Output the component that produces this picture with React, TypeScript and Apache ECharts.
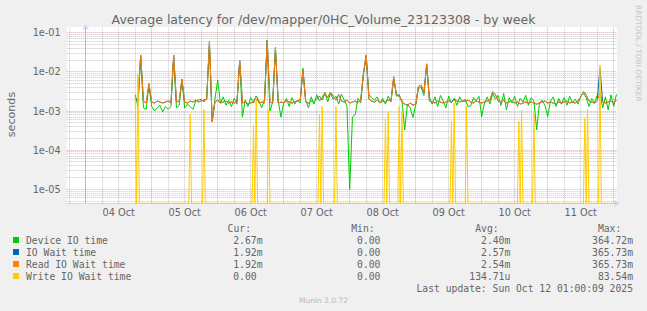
import React, { useEffect, useRef } from 'react';
import * as echarts from 'echarts';

// ---- axis / tick data ----
const dayLabels = ['04 Oct', '05 Oct', '06 Oct', '07 Oct', '08 Oct', '09 Oct', '10 Oct', '11 Oct'];
const dayLabelHours = [12, 36, 60, 84, 108, 132, 156, 180];
const midnightHours = [0, 24, 48, 72, 96, 120, 144, 168, 192];
const sixHourGridHours = [-6, 6, 12, 18, 30, 36, 42, 54, 60, 66, 78, 84, 90, 102, 108, 114, 126, 132, 138, 150, 156, 162, 174, 180, 186];
const yMajorTicks = [1e-5, 1e-4, 1e-3, 1e-2, 1e-1];
const yMinorTicks = [
  5e-6, 6e-6, 7e-6, 8e-6, 9e-6,
  2e-5, 3e-5, 4e-5, 5e-5, 6e-5, 7e-5, 8e-5, 9e-5,
  2e-4, 3e-4, 4e-4, 5e-4, 6e-4, 7e-4, 8e-4, 9e-4,
  2e-3, 3e-3, 4e-3, 5e-3, 6e-3, 7e-3, 8e-3, 9e-3,
  2e-2, 3e-2, 4e-2, 5e-2, 6e-2, 7e-2, 8e-2, 9e-2,
];

// hours since 04 Oct 00:00, hourly samples from firstSampleHour
const firstSampleHour = 18;

// values in milliseconds
const deviceIoMs = [
  2.6, 1.3, 25, 1.2, 1.1, 4.5, 1.3, 1.0, 1.2, 1.4, 0.95, 1.3,
  1.1, 1.3, 24, 1.2, 1.4, 6.0, 1.2, 1.5, 1.3, 1.1, 1.8, 1.9,
  2.0, 1.7, 2.1, 50, 0.54, 2.0, 6.2, 1.6, 2.3, 1.4, 1.9, 1.3,
  2.1, 1.5, 18, 0.7, 1.9, 1.3, 2.2, 1.6, 2.4, 1.8, 1.2, 2.0,
  60, 1.0, 1.7, 42, 1.9, 0.7, 1.6, 2.1, 1.3, 2.2, 1.5, 1.9,
  1.6, 12.5, 1.9, 1.2, 2.3, 1.5, 2.6, 1.8, 2.2, 3.0, 1.7, 2.8,
  2.0, 2.4, 1.5, 2.7, 1.9, 1.4, 0.01, 0.7, 0.8, 2.1, 1.6, 8.5,
  25, 2.6, 2.2, 1.9, 2.3, 1.6, 2.1, 1.5, 2.4, 1.7, 6.5, 2.8,
  2.3, 1.9, 0.33, 1.5, 1.2, 0.69, 1.4, 3.8, 4.0, 2.5, 15, 2.2,
  1.5, 2.3, 1.3, 2.5, 1.8, 1.2, 2.4, 1.6, 2.1, 1.4, 2.3, 1.7,
  2.0, 1.3, 1.35, 2.2, 1.8, 2.4, 0.72, 1.6, 2.3, 1.5, 2.8, 2.0,
  2.5, 1.4, 2.8, 1.07, 2.2, 1.6, 2.4, 1.3, 2.1, 1.7, 2.5, 1.4,
  2.2, 1.8, 0.33, 1.6, 1.9, 1.4, 0.72, 1.8, 2.3, 1.3, 2.1, 1.5,
  2.2, 1.4, 2.4, 1.6, 2.0, 1.5, 2.4, 2.8, 2.2, 1.3, 2.1, 1.6,
  2.5, 2.9, 1.2, 2.3, 1.07, 2.6, 1.3, 2.67,
];

const ioWaitMs = [
  2.2, 1.7, 27, 1.8, 1.6, 5.0, 1.7, 1.6, 1.8, 1.7, 1.6, 1.7,
  1.8, 1.6, 27, 1.7, 1.8, 6.5, 1.7, 1.6, 1.8, 1.7, 1.9, 1.7,
  1.8, 1.9, 2.0, 59, 0.54, 1.7, 1.9, 1.6, 1.7, 1.8, 1.6, 1.7,
  1.6, 1.7, 20, 1.6, 1.7, 1.5, 1.6, 1.7, 2.4, 1.6, 1.7, 1.6,
  65, 1.7, 1.6, 40, 1.6, 1.7, 1.6, 1.8, 1.7, 1.6, 1.7, 1.8,
  1.9, 11, 1.7, 1.6, 1.8, 1.7, 2.0, 2.4, 1.9, 2.8, 2.2, 3.0,
  2.4, 1.9, 2.6, 1.8, 1.7, 1.9, 1.6, 1.7, 1.8, 1.6, 1.9, 9.1,
  27, 2.0, 1.8, 1.7, 1.9, 1.6, 1.8, 1.7, 1.9, 1.8, 7.5, 2.4,
  2.6, 1.7, 1.5, 1.4, 1.6, 1.4, 1.5, 4.2, 4.6, 3.0, 16, 1.8,
  1.7, 1.6, 1.8, 1.7, 1.6, 1.7, 1.8, 1.7, 2.0, 1.8, 1.7, 1.8,
  1.8, 1.9, 1.7, 1.6, 1.8, 1.7, 1.6, 1.7, 1.8, 1.9, 3.1, 2.6,
  1.8, 1.7, 1.9, 1.6, 1.7, 1.8, 1.6, 1.7, 1.5, 1.6, 1.7, 1.6,
  1.7, 1.6, 1.5, 1.6, 1.7, 1.8, 1.6, 1.7, 1.6, 1.5, 1.7, 1.6,
  1.7, 1.8, 1.6, 1.7, 1.6, 1.8, 2.3, 3.1, 2.6, 1.8, 1.7, 1.6,
  1.8, 12.5, 1.7, 1.6, 1.7, 1.8, 1.6, 1.92,
];

const readWaitMs = [
  1.9, 1.7, 27, 1.8, 1.6, 5.0, 1.7, 1.6, 1.8, 1.7, 1.6, 1.7,
  1.8, 1.6, 27, 1.7, 1.8, 6.5, 1.7, 1.6, 1.8, 1.7, 1.9, 1.7,
  1.8, 1.9, 2.0, 59, 0.54, 1.7, 1.9, 1.6, 1.7, 1.8, 1.6, 1.7,
  1.6, 1.7, 20, 1.6, 1.7, 1.5, 1.6, 1.7, 2.2, 1.6, 1.7, 1.6,
  65, 1.7, 1.6, 40, 1.6, 1.7, 1.6, 1.8, 1.7, 1.6, 1.7, 1.8,
  1.9, 11, 1.7, 1.6, 1.8, 1.7, 2.0, 2.4, 1.9, 2.8, 2.2, 3.0,
  2.4, 1.9, 2.6, 1.8, 1.7, 1.9, 1.6, 1.7, 1.8, 1.6, 1.9, 9.1,
  27, 2.0, 1.8, 1.7, 1.9, 1.6, 1.8, 1.7, 1.9, 1.8, 7.5, 2.4,
  2.5, 1.7, 1.5, 1.4, 1.6, 1.4, 1.5, 4.2, 4.6, 3.0, 16, 1.8,
  1.7, 1.6, 1.8, 1.7, 1.6, 1.7, 1.8, 1.7, 1.9, 1.8, 1.7, 1.8,
  1.8, 1.9, 1.7, 1.6, 1.8, 1.7, 1.6, 1.7, 1.8, 1.9, 3.1, 2.6,
  1.8, 1.7, 1.9, 1.6, 1.7, 1.8, 1.6, 1.7, 1.5, 1.6, 1.7, 1.6,
  1.7, 1.6, 1.5, 1.6, 1.7, 1.8, 1.6, 1.7, 1.6, 1.5, 1.7, 1.6,
  1.7, 1.8, 1.6, 1.7, 1.6, 1.8, 2.3, 3.1, 2.6, 1.8, 1.7, 1.6,
  1.8, 3.0, 1.7, 1.6, 1.7, 1.8, 1.6, 1.92,
];

const writeHours = [
  18, 18.5, 19, 19.5,
  37.5, 38, 38.5,
  42.5, 43, 43.5,
  60.5, 61, 61.5, 62, 62.5,
  66, 66.5, 67,
  84.5, 85, 85.5, 86, 86.5,
  90.5, 91, 91.5,
  108.5, 109, 109.5, 110, 110.5,
  113.5, 114, 114.5, 115, 115.5,
  132.5, 133, 133.5, 134, 134.5,
  138, 138.5, 139,
  157, 157.5, 158, 158.5, 159,
  162.5, 163, 163.5,
  181, 181.5, 182, 182.5, 183,
  186.5, 187, 187.5,
  193,
];
const writeMs = [
  2.3, 0, 8.7, 0,
  0, 0.83, 0,
  0, 1.1, 0,
  0, 0.44, 0, 2.3, 0,
  0, 1.07, 0,
  0, 0.8, 0, 1.3, 0,
  0, 1.3, 0,
  0, 0.65, 0, 0.93, 0,
  0, 1.3, 0, 1.0, 0,
  0, 0.54, 0, 1.6, 0,
  0, 1.3, 0,
  0, 0.54, 0, 1.07, 0,
  0, 0.88, 0,
  0, 0.65, 0, 1.1, 0,
  0, 15, 0,
  0,
];

// ---- legend data ----
const legendNames = ['Device IO time', 'IO Wait time', 'Read IO Wait time', 'Write IO Wait time'];
const legendColors = ['#00CC00', '#0066B3', '#FF8000', '#FFCC00'];
const curValues = ['2.67m', '1.92m', '1.92m', '0.00'];
const minValues = ['0.00', '0.00', '0.00', '0.00'];
const avgValues = ['2.40m', '2.57m', '2.54m', '134.71u'];
const maxValues = ['364.72m', '365.73m', '365.73m', '83.54m'];
const legendHeaders = ['Cur:', 'Min:', 'Avg:', 'Max:'];

const TITLE = 'Average latency for /dev/mapper/0HC_Volume_23123308 - by week';
const LAST_UPDATE = 'Last update: Sun Oct 12 01:00:09 2025';

const X_MIN = -6.91;
const X_MAX = 193.2;
const Y_MIN = 4.39e-6;
const Y_MAX = 0.14;

const FONT = 'DejaVu Sans';
const MONO = 'DejaVu Sans Mono';
const FONT_COLOR = '#666666';
const MINOR_GRID = 'rgba(143,143,143,0.5)';
const MAJOR_GRID = 'rgba(222,79,79,0.5)';

const snap = (v: number) => Math.round(v - 0.5) + 0.5;

function buildOption() {
  const toSeconds = (arr: number[]) => arr.map((v, i) => [firstSampleHour + i, Math.max(v / 1000, Y_MIN)]);

  const charW = 9.72 * 0.602;
  const colRights = [262.5, 386.3, 510.3, 633];
  const headerRights = [251, 374.6, 498.6, 621.3];
  const rowYs = [240, 252, 264, 276];
  const columns = [curValues, minValues, avgValues, maxValues];

  const monoStyle = (extra: any) => ({ fontFamily: MONO, fontSize: 9.72, fill: FONT_COLOR, ...extra });

  const graphics: any[] = [];
  graphics.push({ type: 'text', x: 323.5, y: 19, style: { text: TITLE, fontFamily: FONT, fontSize: 12.5, fill: FONT_COLOR, align: 'center', verticalAlign: 'middle' } });
  legendHeaders.forEach((h, c) => {
    graphics.push({ type: 'text', x: headerRights[c], y: 228, style: monoStyle({ text: h, align: 'right', verticalAlign: 'middle' }) });
  });
  legendNames.forEach((name, r) => {
    graphics.push({ type: 'rect', shape: { x: 13, y: rowYs[r] - 3, width: 6, height: 6 }, style: { fill: legendColors[r] } });
    graphics.push({ type: 'text', x: 26, y: rowYs[r], style: monoStyle({ text: name, align: 'left', verticalAlign: 'middle' }) });
    columns.forEach((col, c) => {
      const s = col[r];
      const right = colRights[c] - (/\d$/.test(s) ? charW : 0);
      graphics.push({ type: 'text', x: right, y: rowYs[r], style: monoStyle({ text: s, align: 'right', verticalAlign: 'middle' }) });
    });
  });
  graphics.push({ type: 'text', x: 633, y: 288, style: monoStyle({ text: LAST_UPDATE, align: 'right', verticalAlign: 'middle' }) });
  graphics.push({ type: 'text', x: 323.5, y: 300.5, style: { text: 'Munin 2.0.72', fontFamily: FONT, fontSize: 7.5, fill: '#bbbbbb', align: 'center', verticalAlign: 'middle' } });
  graphics.push({ type: 'text', x: 638.5, y: 5, rotation: -Math.PI / 2, style: { text: 'RRDTOOL / TOBI OETIKER', fontFamily: FONT, fontSize: 7.5, fill: '#c4c4c4', align: 'left', verticalAlign: 'middle' } });
  graphics.push({ type: 'text', x: 11.2, y: 114.5, rotation: Math.PI / 2, style: { text: 'seconds', fontFamily: FONT, fontSize: 11.1, fill: FONT_COLOR, align: 'center', verticalAlign: 'middle' } });

  const lineSeries = (name: string, color: string, data: any[], z: number) => ({
    name, type: 'line', data, z, showSymbol: false, symbol: 'none', clip: false,
    lineStyle: { color, width: 1 }, itemStyle: { color }, emphasis: { disabled: true }, silent: true,
  });

  // vertical grid lines: [hour, _, isMajor]
  const vGridData = [
    ...sixHourGridHours.map((h) => [h, Y_MIN, 0]),
    ...midnightHours.map((h) => [h, Y_MIN, 1]),
  ];
  // horizontal grid lines: [_, value, isMajor]
  const hGridData = [
    ...yMinorTicks.map((v) => [X_MIN, v, 0]),
    ...yMajorTicks.map((v) => [X_MIN, v, 1]),
  ];

  const vGridSeries = {
    name: 'vgrid', type: 'custom', z: 1, silent: true, clip: false,
    data: vGridData,
    renderItem: (_p: any, api: any) => {
      const h = api.value(0);
      const a = api.coord([h, Y_MIN]);
      const b = api.coord([h, Y_MAX]);
      const x = snap(a[0]);
      return {
        type: 'line',
        shape: { x1: x, y1: a[1], x2: x, y2: b[1] },
        style: { stroke: api.value(2) ? MAJOR_GRID : MINOR_GRID, lineWidth: 1, lineDash: [1, 1] },
      };
    },
  };
  const hGridSeries = {
    name: 'hgrid', type: 'custom', z: 1, silent: true, clip: false,
    data: hGridData,
    renderItem: (_p: any, api: any) => {
      const v = api.value(1);
      const a = api.coord([X_MIN, v]);
      const b = api.coord([X_MAX, v]);
      const y = snap(a[1]);
      return {
        type: 'line',
        shape: { x1: a[0], y1: y, x2: b[0], y2: y },
        style: { stroke: api.value(2) ? MAJOR_GRID : MINOR_GRID, lineWidth: 1, lineDash: [1, 1] },
      };
    },
  };

  return {
    animation: false,
    backgroundColor: '#F0F0F0',
    grid: { left: 66.7, top: 27, width: 550.3, height: 176.3, show: true, backgroundColor: '#FFFFFF', borderWidth: 0, containLabel: false },
    xAxis: {
      type: 'value', min: X_MIN, max: X_MAX,
      axisLine: { show: true, onZero: false, lineStyle: { color: '#CFD6F8', width: 1 }, symbol: ['none', 'arrow'], symbolSize: [5, 6], symbolOffset: [0, 3] },
      axisTick: { show: false },
      splitLine: { show: false },
      axisLabel: {
        customValues: dayLabelHours,
        formatter: (v: number) => { const i = dayLabelHours.indexOf(Math.round(v)); return i >= 0 ? dayLabels[i] : ''; },
        margin: 4, color: FONT_COLOR, fontFamily: FONT, fontSize: 9.72,
      },
    },
    yAxis: {
      type: 'log', logBase: 10, min: Y_MIN, max: Y_MAX,
      axisLine: { show: true, lineStyle: { color: '#CFD6F8', width: 1 }, symbol: ['none', 'arrow'], symbolSize: [5, 6], symbolOffset: [0, 3] },
      axisTick: { show: false },
      splitLine: { show: false },
      minorSplitLine: { show: false },
      axisLabel: {
        showMinLabel: false, showMaxLabel: false, margin: 6,
        color: FONT_COLOR, fontFamily: FONT, fontSize: 9.72,
        formatter: (v: number) => {
          const e = Math.round(Math.log10(v));
          return '1e' + (e < 0 ? '-' : '+') + String(Math.abs(e)).padStart(2, '0');
        },
      },
    },
    graphic: graphics,
    series: [
      vGridSeries,
      hGridSeries,
      lineSeries('Device IO time', legendColors[0], toSeconds(deviceIoMs), 3),
      lineSeries('IO Wait time', legendColors[1], toSeconds(ioWaitMs), 4),
      lineSeries('Read IO Wait time', legendColors[2], toSeconds(readWaitMs), 5),
      lineSeries('Write IO Wait time', legendColors[3], writeHours.map((h, i) => [h, Math.max(writeMs[i] / 1000, Y_MIN)]), 6),
    ],
  };
}

export default function App() {
  const ref = useRef<HTMLDivElement>(null);
  useEffect(() => {
    if (!ref.current) return;
    const chart = echarts.init(ref.current, null, { renderer: 'svg', width: 647, height: 311 });
    chart.setOption(buildOption() as any);
    return () => chart.dispose();
  }, []);
  return (
    <div
      ref={ref}
      style={{ position: 'fixed', left: 0, top: 0, width: 647, height: 311, background: '#F0F0F0' }}
    />
  );
}
